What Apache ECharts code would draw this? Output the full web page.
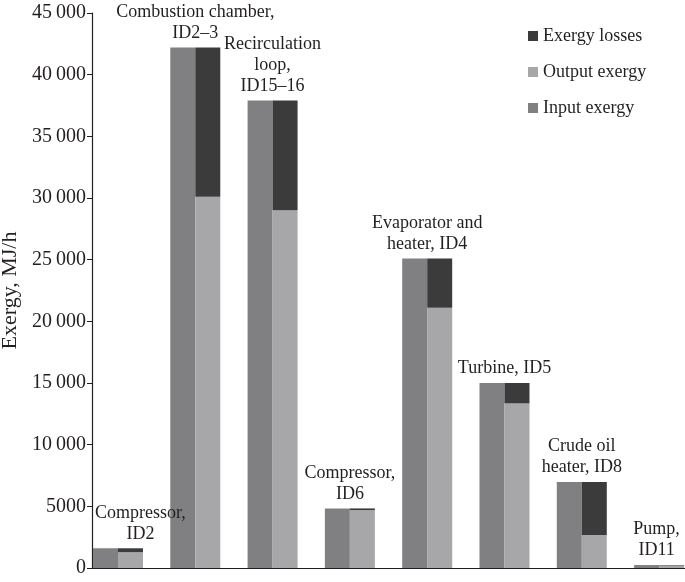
<!DOCTYPE html>
<html lang="en">
<head>
    <meta charset="UTF-8">
    <title>Exergy by component</title>
    <script src="https://cdn.jsdelivr.net/npm/echarts@6/dist/echarts.min.js"></script>
</head>
<body style="margin: 0">
    <div id="chart" style="width: 685px; height: 582px;"></div>
    <script>
        // components (label text shown above each pair of bars)
        const categories = [
            'Compressor,\nID2',
            'Combustion chamber,\nID2–3',
            'Recirculation\nloop,\nID15–16',
            'Compressor,\nID6',
            'Evaporator and\nheater, ID4',
            'Turbine, ID5',
            'Crude oil\nheater, ID8',
            'Pump,\nID11'
        ];
        // MJ/h
        const inputExergy  = [1600, 42200, 37900, 4830, 25100, 15000, 6970, 240];
        const outputExergy = [1280, 30100, 29000, 4700, 21100, 13350, 2680, 200];
        const exergyLosses = [320, 12100, 8900, 130, 4000, 1650, 4290, 40];

        const font = 'Liberation Serif, Times New Roman, serif';
        const ink = '#231f20';

        // label nudges so the text sits over the pair (first one pushed off the axis)
        const labelShift = [35, 12.5, 12.5, 12.5, 12.5, 12.5, 12.5, 10];

        const chart = echarts.init(document.getElementById('chart'));

        // value first, position second, so the stack runs along y
        const pairs = arr => arr.map((v, i) => [v, i]);

        const option = {
            animation: false,
            textStyle: { fontFamily: font, color: ink },
            grid: {
                left: 92, right: 0, top: 13, bottom: 14,
                containLabel: false,
                outerBoundsMode: 'none'
            },
            legend: {
                orient: 'vertical',
                left: 523,
                top: 22,
                icon: 'rect',
                itemWidth: 10,
                itemHeight: 10,
                itemGap: 18,
                data: ['Exergy losses', 'Output exergy', 'Input exergy'],
                textStyle: { fontFamily: font, fontSize: 18, color: ink }
            },
            xAxis: {
                type: 'value',
                min: -0.336,
                max: 7.335,
                axisLine: { show: true, onZero: false, lineStyle: { color: ink, width: 1.2 } },
                axisTick: { show: false },
                axisLabel: { show: false },
                splitLine: { show: false }
            },
            yAxis: {
                type: 'value',
                min: 0,
                max: 45000,
                interval: 5000,
                name: 'Exergy, MJ/h',
                nameLocation: 'middle',
                nameGap: 68,
                nameTextStyle: { fontFamily: font, fontSize: 22, color: ink },
                axisLine: { show: true, onZero: false, lineStyle: { color: ink, width: 1.2 } },
                axisTick: { show: true, length: 5, lineStyle: { color: ink } },
                axisLabel: {
                    fontFamily: font,
                    fontSize: 20,
                    color: ink,
                    margin: 6,
                    formatter: function (v) {
                        return v >= 10000 ? String(v).slice(0, 2) + '\u2009' + String(v).slice(2) : String(v);
                    }
                },
                splitLine: { show: false }
            },
            series: [
                {
                    name: 'Input exergy',
                    type: 'bar',
                    barWidth: 25,
                    barGap: '0%',
                    encode: { x: 1, y: 0 },
                    itemStyle: { color: '#808083' },
                    data: inputExergy.map((v, i) => ({
                        value: [v, i],
                        label: { offset: [labelShift[i], 0] }
                    })),
                    label: {
                        show: true,
                        position: 'top',
                        distance: 4,
                        align: 'center',
                        fontFamily: font,
                        fontSize: 18,
                        lineHeight: 21,
                        color: ink,
                        formatter: p => categories[p.dataIndex]
                    }
                },
                {
                    name: 'Output exergy',
                    type: 'bar',
                    stack: 'out',
                    barWidth: 25,
                    barGap: '0%',
                    encode: { x: 1, y: 0 },
                    itemStyle: { color: '#a7a7aa' },
                    data: pairs(outputExergy)
                },
                {
                    name: 'Exergy losses',
                    type: 'bar',
                    stack: 'out',
                    barWidth: 25,
                    barGap: '0%',
                    encode: { x: 1, y: 0 },
                    itemStyle: { color: '#3b3b3b' },
                    data: pairs(exergyLosses)
                }
            ]
        };

        chart.setOption(option);
    </script>
</body>
</html>
